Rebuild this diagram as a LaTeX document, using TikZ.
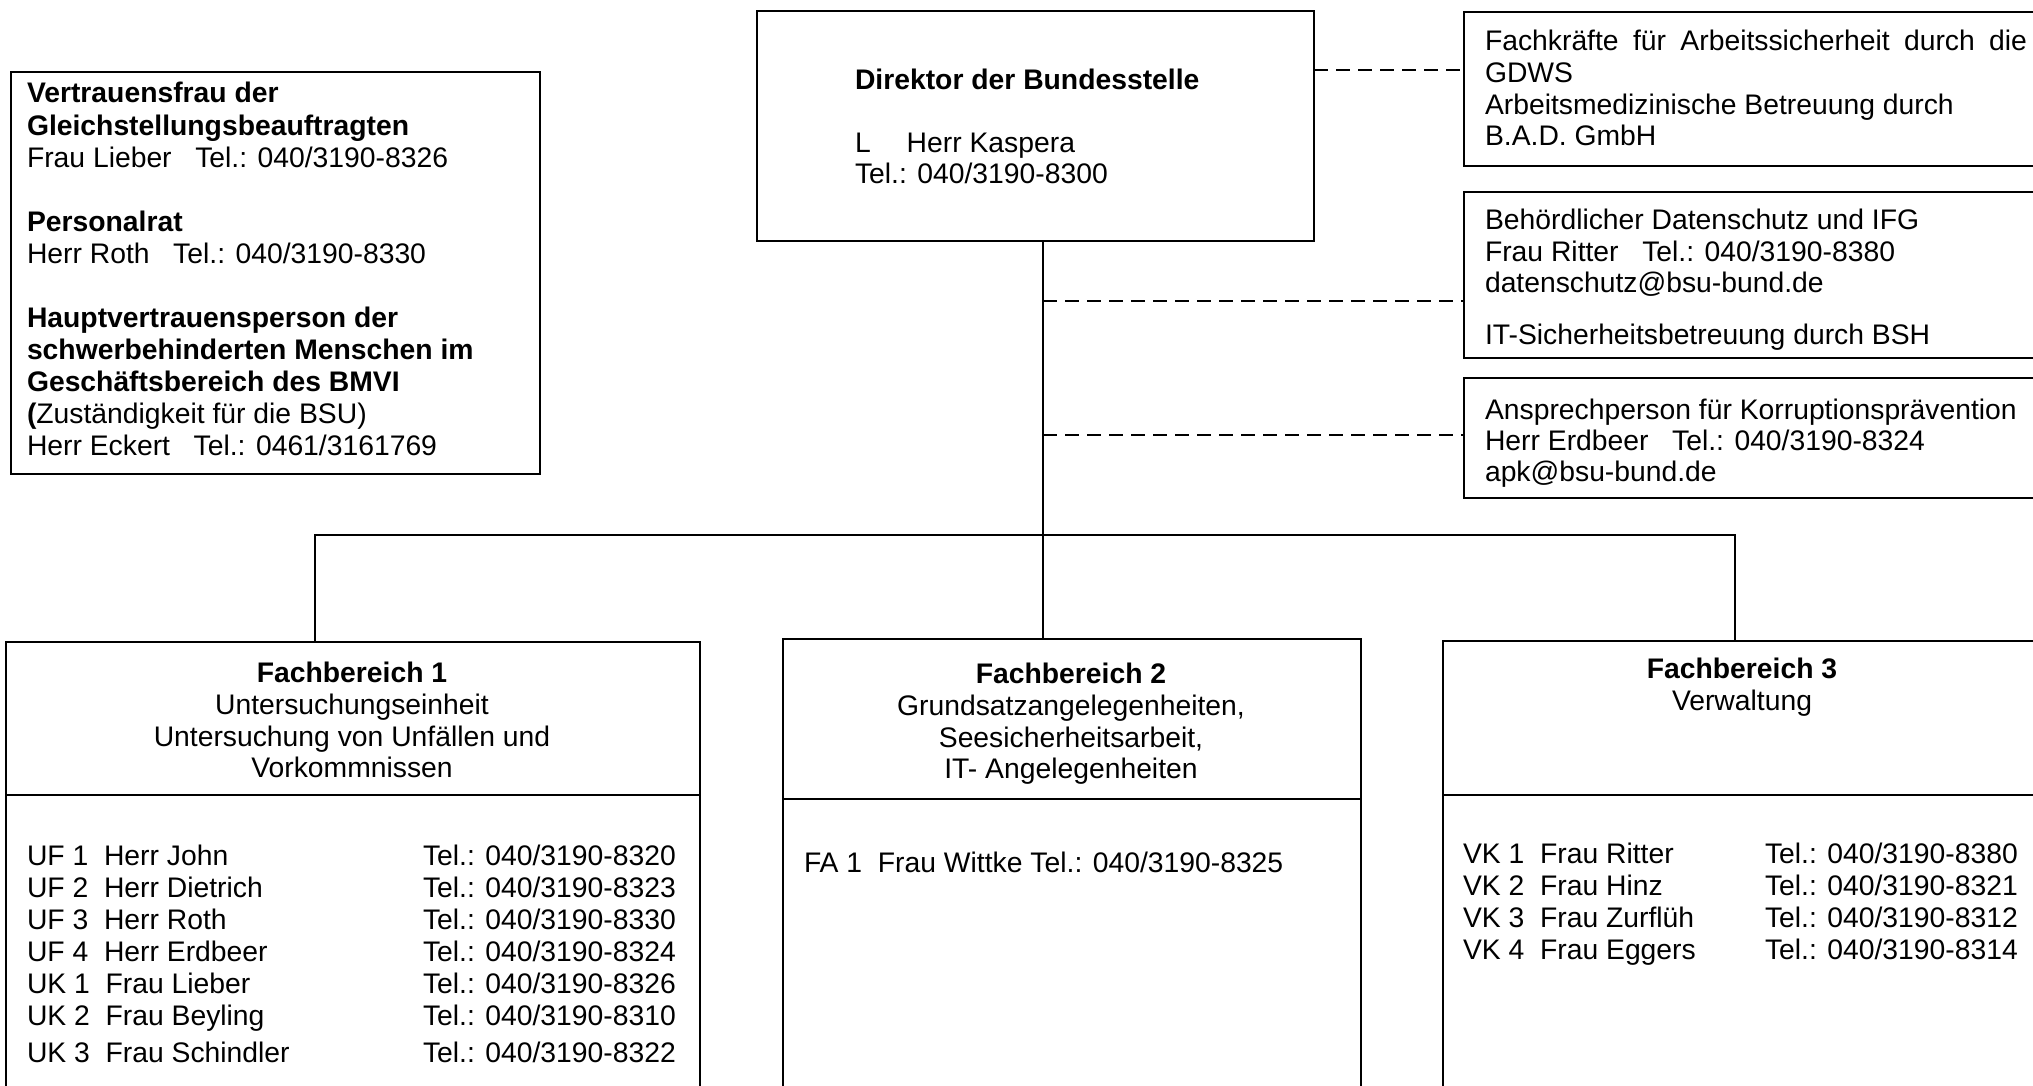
\documentclass[tikz,border=0pt]{standalone}
\usepackage{fontspec}
\setmainfont{Liberation Sans}
\usetikzlibrary{fit}
\tikzset{
  txt/.style={anchor=base west, inner sep=0pt, outer sep=0pt, font=\fontsize{14.15pt}{16pt}\selectfont},
  ctxt/.style={txt, anchor=base},
  boxline/.style={draw=black, inner sep=0pt, outer sep=0pt, line width=#1},
  conn/.style={draw=black, line width=0.65pt},
  dashconn/.style={conn, dash pattern=on 7pt off 4pt},
}
\begin{document}
\begin{tikzpicture}[x=0.5pt, y=-0.5pt]
\fill[white] (0,0) rectangle (2033,1086);
\useasboundingbox (0,0) rectangle (2033,1086);
\clip (0,0) rectangle (2033,1086);

% boxes
\node[boxline=1.25pt, fit={(11,72) (540,474)}] (vtf) {};
\node[boxline=0.7pt, fit={(757,11) (1314,241)}] (dir) {};
\node[boxline=1pt, fit={(1464,12) (2060,166)}] (rb1) {};
\node[boxline=1pt, fit={(1464,192) (2060,358)}] (rb2) {};
\node[boxline=1pt, fit={(1464,378) (2060,498)}] (rb3) {};
\node[boxline=0.85pt, fit={(6,642) (700,795)}] (fb1h) {};
\node[boxline=0.85pt, fit={(6,795) (700,1110)}] (fb1b) {};
\node[boxline=0.85pt, fit={(783,639) (1361,799)}] (fb2h) {};
\node[boxline=0.85pt, fit={(783,799) (1361,1110)}] (fb2b) {};
\node[boxline=0.85pt, fit={(1443,641) (2041,795)}] (fb3h) {};
\node[boxline=0.85pt, fit={(1443,795) (2041,1110)}] (fb3b) {};

% connectors
\coordinate (vx) at (1043,0);
\coordinate (jl) at (315,535);
\coordinate (jr) at (1735,535);
\draw[conn] (dir.south -| vx) -- (fb2h.north -| vx);
\draw[conn] (fb1h.north -| jl) -- (jl) -- (jr) -- (fb3h.north -| jr);
\coordinate (d1) at (0,70);
\draw[dashconn] (d1 -| dir.east) -- (d1 -| rb1.west);
\coordinate (d2) at (1043,301);
\draw[dashconn] (d2) -- (d2 -| rb2.west);
\coordinate (d3) at (1043,435);
\draw[dashconn] (d3) -- (d3 -| rb3.west);

% left box text
\node[txt] (v1) at (27,103) {\bfseries Vertrauensfrau der};
\node[txt] (v2) at (27,135) {\bfseries Gleichstellungsbeauftragten};
\node[txt] (v3) at (27,167) {Frau Lieber\ \ \ Tel.: 040/3190-8326};
\node[txt] (v4) at (27,231) {\bfseries Personalrat};
\node[txt] (v5) at (27,263) {Herr Roth\ \ \ Tel.: 040/3190-8330};
\node[txt] (v6) at (27,327) {\bfseries Hauptvertrauensperson der};
\node[txt] (v7) at (27,359) {\bfseries schwerbehinderten Menschen im};
\node[txt] (v8) at (27,391) {\bfseries Geschäftsbereich des BMVI};
\node[txt] (v9) at (27,423) {\textbf{(}Zuständigkeit für die BSU)};
\node[txt] (v10) at (27,455) {Herr Eckert\ \ \ Tel.: 0461/3161769};

% Direktor
\node[txt] (dt1) at (855,90) {\bfseries Direktor der Bundesstelle};
\node[txt] (dt2) at (855,153) {L\hspace{18pt}Herr Kaspera};
\node[txt] (dt3) at (855,184) {Tel.: 040/3190-8300};

% right boxes
\node[txt] (r11) at (1485,51) {\makebox[271pt][s]{Fachkräfte für Arbeitssicherheit durch die}};
\node[txt] (r12) at (1485,83) {GDWS};
\node[txt] (r13) at (1485,114) {Arbeitsmedizinische Betreuung durch};
\node[txt] (r14) at (1485,146) {B.A.D. GmbH};
\node[txt] (r21) at (1485,229) {Behördlicher Datenschutz und IFG};
\node[txt] (r22) at (1485,261) {Frau Ritter\ \ \ Tel.: 040/3190-8380};
\node[txt] (r23) at (1485,292) {datenschutz@bsu-bund.de};
\node[txt] (r24) at (1485,344) {IT-Sicherheitsbetreuung durch BSH};
\node[txt] (r31) at (1485,419) {Ansprechperson für Korruptionsprävention};
\node[txt] (r32) at (1485,450) {Herr Erdbeer\ \ \ Tel.: 040/3190-8324};
\node[txt] (r33) at (1485,481) {apk@bsu-bund.de};

% Fachbereich 1
\node[ctxt] (f1a) at (352,682) {\bfseries Fachbereich 1};
\node[ctxt] (f1b) at (352,714) {Untersuchungseinheit};
\node[ctxt] (f1c) at (352,746) {Untersuchung von Unfällen und};
\node[ctxt] (f1d) at (352,777) {Vorkommnissen};
\node[txt] (u1) at (27,865) {UF 1\ \ Herr John};
\node[txt] (u2) at (27,897) {UF 2\ \ Herr Dietrich};
\node[txt] (u3) at (27,929) {UF 3\ \ Herr Roth};
\node[txt] (u4) at (27,961) {UF 4\ \ Herr Erdbeer};
\node[txt] (u5) at (27,993) {UK 1\ \ Frau Lieber};
\node[txt] (u6) at (27,1025) {UK 2\ \ Frau Beyling};
\node[txt] (u7) at (27,1062) {UK 3\ \ Frau Schindler};
\node[txt] (t1) at (423,865) {Tel.: 040/3190-8320};
\node[txt] (t2) at (423,897) {Tel.: 040/3190-8323};
\node[txt] (t3) at (423,929) {Tel.: 040/3190-8330};
\node[txt] (t4) at (423,961) {Tel.: 040/3190-8324};
\node[txt] (t5) at (423,993) {Tel.: 040/3190-8326};
\node[txt] (t6) at (423,1025) {Tel.: 040/3190-8310};
\node[txt] (t7) at (423,1062) {Tel.: 040/3190-8322};

% Fachbereich 2
\node[ctxt] (f2a) at (1071,683) {\bfseries Fachbereich 2};
\node[ctxt] (f2b) at (1071,715) {Grundsatzangelegenheiten,};
\node[ctxt] (f2c) at (1071,747) {Seesicherheitsarbeit,};
\node[ctxt] (f2d) at (1071,778) {IT- Angelegenheiten};
\node[txt] (fa1) at (804,872) {FA 1\ \ Frau Wittke Tel.: 040/3190-8325};

% Fachbereich 3
\node[ctxt] (f3a) at (1742,678) {\bfseries Fachbereich 3};
\node[ctxt] (f3b) at (1742,710) {Verwaltung};
\node[txt] (k1) at (1463,863) {VK 1\ \ Frau Ritter};
\node[txt] (k2) at (1463,895) {VK 2\ \ Frau Hinz};
\node[txt] (k3) at (1463,927) {VK 3\ \ Frau Zurflüh};
\node[txt] (k4) at (1463,959) {VK 4\ \ Frau Eggers};
\node[txt] (s1) at (1765,863) {Tel.: 040/3190-8380};
\node[txt] (s2) at (1765,895) {Tel.: 040/3190-8321};
\node[txt] (s3) at (1765,927) {Tel.: 040/3190-8312};
\node[txt] (s4) at (1765,959) {Tel.: 040/3190-8314};
\end{tikzpicture}
\end{document}
